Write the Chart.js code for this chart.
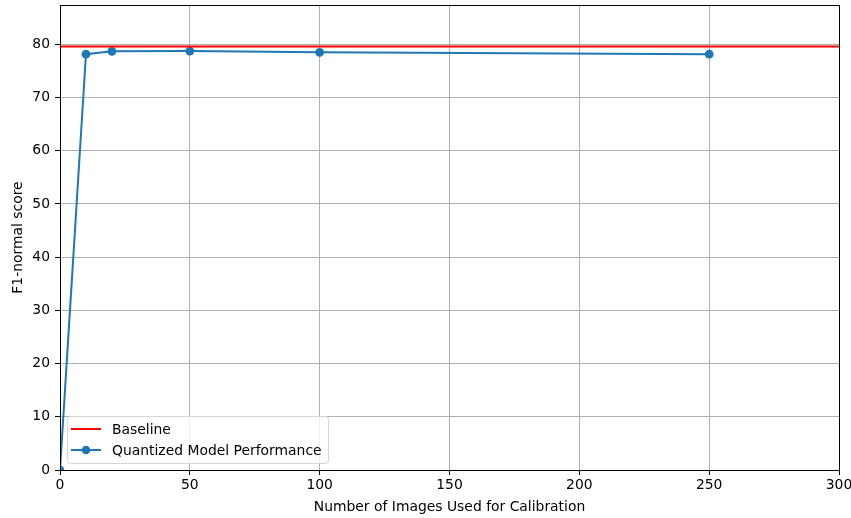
<!DOCTYPE html>
<html>
<head>
<meta charset="utf-8">
<script src="https://cdn.jsdelivr.net/npm/chart.js@4"></script>
<style>
  html, body { margin: 0; padding: 0; background: #fff; }
  #wrap { width: 851px; height: 518px; }
</style>
</head>
<body>
<div id="wrap"><canvas id="c" width="851" height="518"></canvas></div>
<script>
// Calibration set sizes and the resulting F1 score
const calibImages = [0, 10, 20, 50, 100, 250];
const f1Scores = [0, 78.15, 78.7, 78.75, 78.5, 78.15];
const baselineF1 = 79.6;
const xTicks = [0, 50, 100, 150, 200, 250, 300];
const yTicks = [0, 10, 20, 30, 40, 50, 60, 70, 80];
const xRange = [0, 300];
const yRange = [0, 87.4];

const FONT = "'DejaVu Sans', sans-serif";
const BLUE = '#1f77b4';
const RED = '#ff0000';

// Frame around the plot area plus a matplotlib-style legend box
const framePlugin = {
  id: 'frame',
  afterDraw(chart) {
    const { ctx, chartArea: a } = chart;
    ctx.save();
    ctx.strokeStyle = '#000';
    ctx.lineWidth = 1;
    ctx.strokeRect(Math.round(a.left) + 0.5, Math.round(a.top) + 0.5,
                   Math.round(a.right - a.left), Math.round(a.bottom - a.top));

    // legend
    const bx = a.left + 7, bw = 261, bh = 47, by = a.bottom - 7 - bh;
    ctx.beginPath();
    if (ctx.roundRect) ctx.roundRect(bx + 0.5, by + 0.5, bw, bh, 3);
    else ctx.rect(bx + 0.5, by + 0.5, bw, bh);
    ctx.fillStyle = 'rgba(255,255,255,0.8)';
    ctx.fill();
    ctx.strokeStyle = '#d5d5d5';
    ctx.lineWidth = 1;
    ctx.stroke();

    ctx.font = '13.9px ' + FONT;
    ctx.textBaseline = 'middle';
    ctx.fillStyle = '#000';
    const rows = chart.data.datasets.map(d => ({ label: d.label, color: d.borderColor, marker: d.pointRadius > 0 }));
    rows.forEach((r, i) => {
      const y = by + 13 + i * 21;
      ctx.strokeStyle = r.color;
      ctx.lineWidth = 2;
      ctx.beginPath();
      ctx.moveTo(bx + 4, y);
      ctx.lineTo(bx + 34, y);
      ctx.stroke();
      if (r.marker) {
        ctx.fillStyle = r.color;
        ctx.beginPath();
        ctx.arc(bx + 19, y, 4.3, 0, Math.PI * 2);
        ctx.fill();
      }
      ctx.fillStyle = '#000';
      ctx.fillText(r.label, bx + 45, y + 1);
    });
    ctx.restore();
  }
};

const noPad = s => { s.paddingLeft = 0; s.paddingRight = 0; s.paddingTop = 0; s.paddingBottom = 0; };

new Chart(document.getElementById('c'), {
  type: 'line',
  data: {
    datasets: [
      {
        label: 'Baseline',
        data: xRange.map(x => ({ x, y: baselineF1 })),
        borderColor: RED,
        backgroundColor: RED,
        borderWidth: 2,
        pointRadius: 0,
        pointHoverRadius: 0
      },
      {
        label: 'Quantized Model Performance',
        data: calibImages.map((x, i) => ({ x, y: f1Scores[i] })),
        borderColor: BLUE,
        backgroundColor: BLUE,
        borderWidth: 2,
        pointRadius: 4.4,
        pointBorderWidth: 0,
        pointBackgroundColor: BLUE,
        tension: 0
      }
    ]
  },
  plugins: [framePlugin],
  options: {
    responsive: false,
    animation: false,
    events: [],
    layout: { padding: { left: 0, right: 12, top: 5, bottom: 0 } },
    plugins: {
      legend: { display: false },
      tooltip: { enabled: false }
    },
    scales: {
      x: {
        type: 'linear',
        min: xRange[0],
        max: xRange[1],
        afterBuildTicks: s => { s.ticks = xTicks.map(v => ({ value: v })); },
        afterFit: s => { s.height = 48; noPad(s); },
        grid: { color: '#b0b0b0', lineWidth: 1, tickColor: '#000', tickLength: 5, drawTicks: true },
        border: { display: false },
        ticks: { color: '#000', font: { family: FONT, size: 13.9 }, padding: 2, maxRotation: 0 },
        title: { display: true, text: 'Number of Images Used for Calibration', color: '#000',
                 font: { family: FONT, size: 13.9 }, padding: { top: 0, bottom: 2 } }
      },
      y: {
        type: 'linear',
        min: yRange[0],
        max: yRange[1],
        afterBuildTicks: s => { s.ticks = yTicks.map(v => ({ value: v })); },
        afterFit: s => { s.width = 60; noPad(s); },
        grid: { color: '#b0b0b0', lineWidth: 1, tickColor: '#000', tickLength: 5, drawTicks: true },
        border: { display: false },
        ticks: { color: '#000', font: { family: FONT, size: 13.9 }, padding: 5 },
        title: { display: true, text: 'F1-normal score', color: '#000',
                 font: { family: FONT, size: 13.9 }, padding: { top: 10, bottom: 2 } }
      }
    }
  }
});
</script>
</body>
</html>
